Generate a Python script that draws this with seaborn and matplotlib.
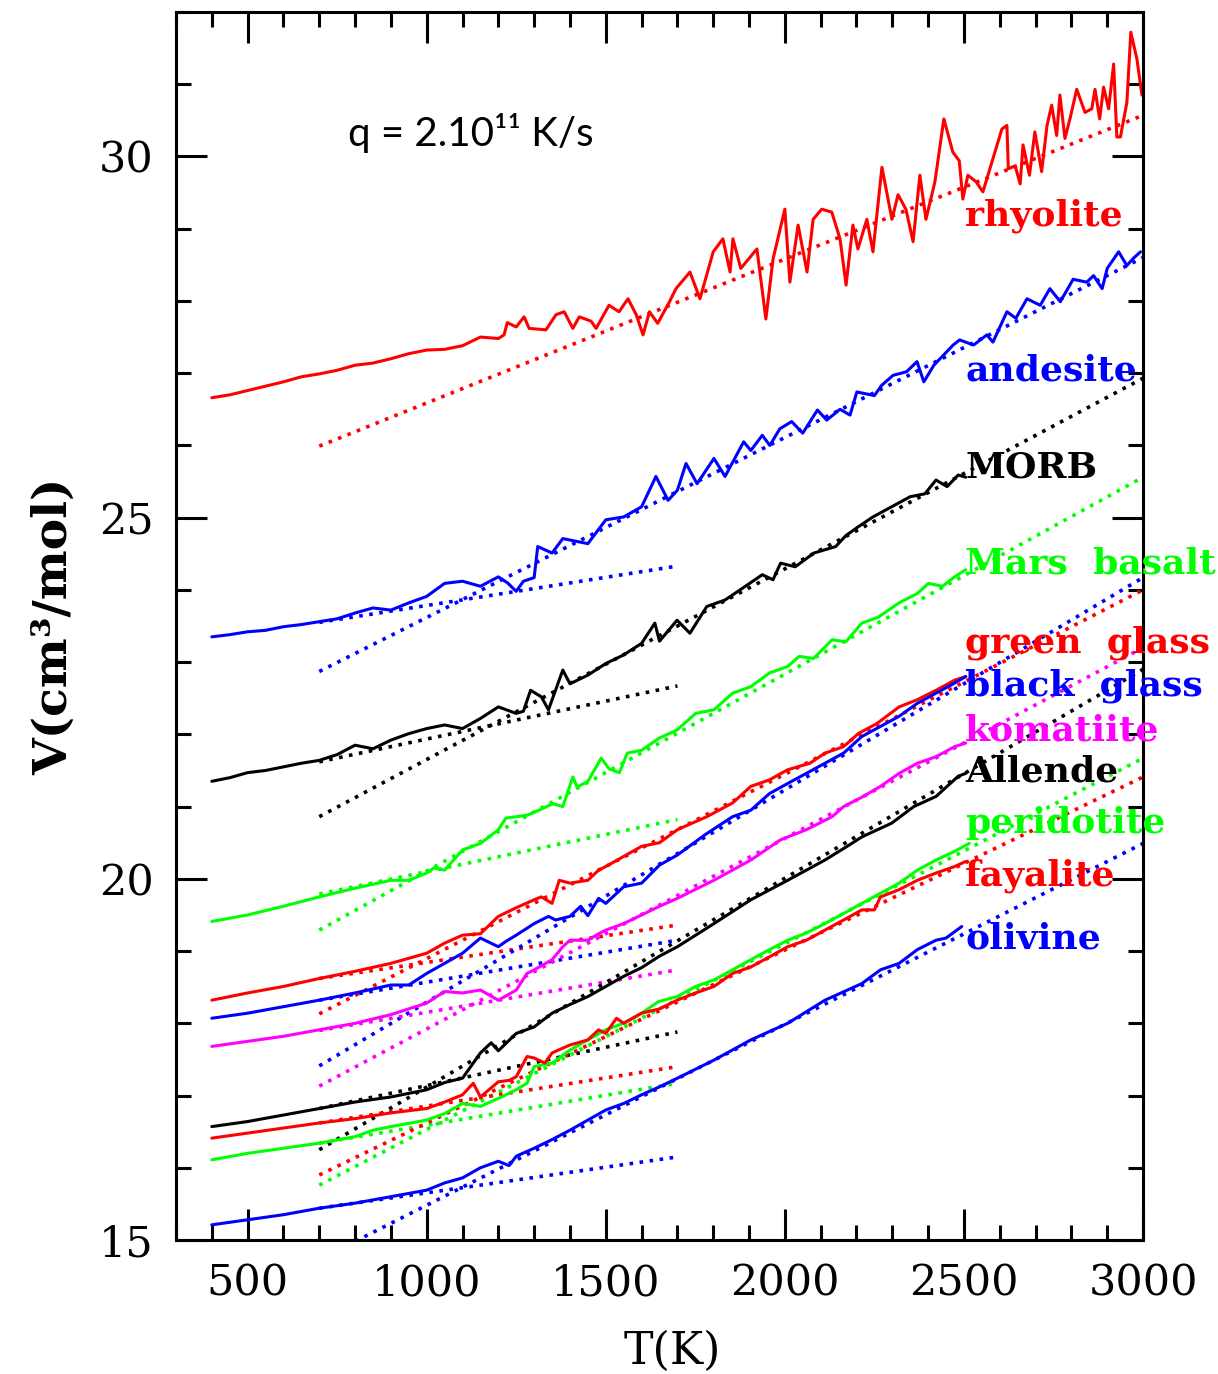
import matplotlib
matplotlib.use("Agg")
import matplotlib.pyplot as plt
from matplotlib.ticker import MultipleLocator
import numpy as np
import pandas as pd
import seaborn as sns

# ---------------- data ----------------
rhyolite_T = [400, 450, 500, 550, 600, 650, 700, 750, 800, 850, 900, 950, 1000, 1050, 1100, 1150, 1200,
              1216, 1225, 1250, 1272, 1286, 1333, 1361, 1384, 1408, 1426, 1459, 1473, 1509, 1537, 1562,
              1585, 1604, 1622, 1645, 1678, 1696, 1735, 1763, 1800, 1827, 1847, 1855, 1877, 1922, 1947,
              1967, 2000, 2014, 2037, 2062, 2079, 2103, 2131, 2154, 2171, 2190, 2204, 2229, 2246, 2271,
              2299, 2316, 2338, 2358, 2377, 2394, 2419, 2444, 2469, 2487, 2497, 2511, 2534, 2553, 2581,
              2606, 2620, 2624, 2643, 2657, 2665, 2683, 2698, 2717, 2732, 2745, 2759, 2768, 2782, 2796,
              2815, 2838, 2857, 2866, 2879, 2890, 2904, 2918, 2927, 2937, 2955, 2966, 2983, 2997]
rhyolite_V = [26.66, 26.70, 26.76, 26.82, 26.88, 26.95, 26.99, 27.04, 27.11, 27.14, 27.20, 27.27, 27.32,
              27.33, 27.38, 27.50, 27.48, 27.53, 27.70, 27.64, 27.78, 27.62, 27.60, 27.81, 27.85, 27.62,
              27.78, 27.72, 27.62, 27.94, 27.85, 28.03, 27.81, 27.53, 27.85, 27.69, 27.99, 28.17, 28.40,
              28.03, 28.68, 28.86, 28.40, 28.86, 28.45, 28.72, 27.75, 28.58, 29.27, 28.26, 29.05, 28.40,
              29.13, 29.27, 29.23, 28.86, 28.22, 29.05, 28.72, 29.13, 28.68, 29.85, 29.13, 29.47, 29.27,
              28.82, 29.74, 29.13, 29.65, 30.52, 30.06, 29.94, 29.41, 29.74, 29.65, 29.51, 29.97, 30.38,
              30.43, 29.83, 29.87, 29.62, 30.16, 29.74, 30.34, 29.79, 30.43, 30.71, 30.29, 30.85, 30.25,
              30.52, 30.93, 30.61, 30.66, 30.93, 30.52, 30.96, 30.66, 31.28, 30.27, 30.27, 30.75, 31.72,
              31.35, 30.85]

andesite_T = [400, 450, 500, 550, 600, 650, 700, 750, 800, 850, 900, 950, 1000, 1050, 1100, 1150, 1200,
              1225, 1250, 1270, 1300, 1310, 1350, 1380, 1400, 1450, 1500, 1550, 1600, 1640, 1674, 1700,
              1724, 1755, 1802, 1833, 1885, 1905, 1937, 1958, 1986, 2019, 2050, 2091, 2117, 2154, 2182,
              2201, 2250, 2270, 2302, 2340, 2369, 2388, 2416, 2470, 2488, 2527, 2564, 2581, 2620, 2645,
              2676, 2713, 2740, 2769, 2805, 2843, 2862, 2886, 2900, 2932, 2955, 2973, 2993]
andesite_V = [23.35, 23.38, 23.42, 23.44, 23.49, 23.52, 23.56, 23.60, 23.68, 23.75, 23.72, 23.82, 23.91,
              24.09, 24.12, 24.05, 24.18, 24.10, 23.98, 24.12, 24.17, 24.60, 24.51, 24.71, 24.69, 24.64,
              24.97, 25.01, 25.15, 25.57, 25.24, 25.38, 25.75, 25.47, 25.82, 25.57, 26.05, 25.93, 26.14,
              26.00, 26.23, 26.33, 26.17, 26.49, 26.35, 26.50, 26.42, 26.74, 26.69, 26.83, 26.97, 27.02,
              27.16, 26.88, 27.11, 27.39, 27.46, 27.39, 27.53, 27.43, 27.85, 27.76, 28.03, 27.94, 28.17,
              27.99, 28.30, 28.26, 28.35, 28.17, 28.45, 28.68, 28.49, 28.59, 28.68]

morb_T = [400, 450, 500, 550, 600, 650, 700, 750, 800, 850, 900, 950, 1000, 1050, 1100, 1150, 1200, 1250,
          1270, 1290, 1320, 1340, 1380, 1400, 1450, 1500, 1550, 1600, 1637, 1650, 1699, 1735, 1782, 1833,
          1875, 1937, 1967, 1988, 2029, 2081, 2142, 2170, 2204, 2246, 2298, 2350, 2391, 2422, 2453, 2484,
          2505]
morb_V = [21.35, 21.40, 21.47, 21.50, 21.55, 21.60, 21.64, 21.72, 21.85, 21.80, 21.92, 22.01, 22.08, 22.13,
          22.08, 22.22, 22.38, 22.29, 22.32, 22.61, 22.52, 22.34, 22.89, 22.70, 22.82, 22.98, 23.10, 23.26,
          23.54, 23.29, 23.58, 23.40, 23.77, 23.86, 24.00, 24.21, 24.14, 24.37, 24.32, 24.51, 24.60, 24.75,
          24.87, 25.01, 25.15, 25.29, 25.33, 25.52, 25.43, 25.59, 25.56]

mars_T = [400, 500, 600, 700, 800, 900, 950, 1000, 1020, 1050, 1100, 1150, 1200, 1221, 1250, 1280, 1314,
          1352, 1380, 1408, 1420, 1450, 1487, 1510, 1538, 1560, 1600, 1650, 1699, 1751, 1802, 1854, 1905,
          1957, 2008, 2040, 2080, 2132, 2170, 2215, 2260, 2319, 2370, 2401, 2440, 2474, 2505]
mars_V = [19.41, 19.50, 19.62, 19.75, 19.87, 19.98, 19.98, 20.08, 20.15, 20.12, 20.40, 20.49, 20.68, 20.84,
          20.86, 20.88, 20.95, 21.04, 21.00, 21.41, 21.27, 21.35, 21.67, 21.52, 21.47, 21.74, 21.78, 21.95,
          22.06, 22.29, 22.34, 22.57, 22.66, 22.85, 22.94, 23.08, 23.05, 23.31, 23.28, 23.54, 23.62, 23.82,
          23.95, 24.09, 24.05, 24.18, 24.28]

greenglass_T = [400, 500, 600, 700, 800, 900, 1000, 1050, 1100, 1150, 1200, 1250, 1300, 1320, 1350, 1370,
                1400, 1450, 1480, 1500, 1550, 1600, 1650, 1700, 1782, 1854, 1905, 1957, 2008, 2070, 2112,
                2164, 2205, 2257, 2319, 2370, 2422, 2474, 2505]
greenglass_V = [18.32, 18.42, 18.51, 18.62, 18.72, 18.83, 18.97, 19.11, 19.22, 19.24, 19.48, 19.60, 19.71,
                19.75, 19.66, 19.98, 19.94, 19.98, 20.12, 20.17, 20.31, 20.45, 20.50, 20.68, 20.86, 21.05,
                21.28, 21.37, 21.51, 21.60, 21.74, 21.83, 22.01, 22.15, 22.38, 22.48, 22.61, 22.75, 22.80]

blackglass_T = [400, 500, 600, 700, 800, 900, 950, 1000, 1050, 1100, 1150, 1200, 1220, 1250, 1300, 1340,
                1360, 1400, 1430, 1450, 1480, 1500, 1550, 1600, 1650, 1700, 1780, 1854, 1905, 1957, 2008,
                2060, 2112, 2164, 2215, 2267, 2319, 2370, 2422, 2474, 2505]
blackglass_V = [18.07, 18.14, 18.23, 18.32, 18.42, 18.53, 18.53, 18.69, 18.83, 18.97, 19.18, 19.06, 19.13,
                19.22, 19.38, 19.48, 19.43, 19.48, 19.62, 19.49, 19.73, 19.66, 19.89, 19.94, 20.19, 20.33,
                20.62, 20.86, 20.95, 21.18, 21.32, 21.46, 21.60, 21.74, 21.97, 22.11, 22.25, 22.43, 22.57,
                22.71, 22.80]

komatiite_T = [400, 500, 600, 700, 800, 900, 1000, 1050, 1100, 1150, 1200, 1250, 1280, 1300, 1350, 1380,
               1400, 1450, 1480, 1500, 1550, 1600, 1650, 1700, 1802, 1905, 1988, 2060, 2132, 2164, 2215,
               2267, 2319, 2370, 2422, 2474, 2505]
komatiite_V = [17.68, 17.75, 17.82, 17.91, 18.00, 18.12, 18.28, 18.44, 18.42, 18.46, 18.32, 18.46, 18.69,
               18.74, 18.88, 19.06, 19.15, 19.15, 19.24, 19.29, 19.38, 19.50, 19.62, 19.73, 19.98, 20.26,
               20.54, 20.68, 20.86, 21.00, 21.13, 21.28, 21.46, 21.60, 21.69, 21.83, 21.88]

allende_T = [400, 500, 600, 700, 800, 900, 1000, 1050, 1100, 1150, 1180, 1200, 1250, 1300, 1350, 1400,
             1450, 1500, 1550, 1600, 1650, 1700, 1802, 1905, 2008, 2112, 2174, 2215, 2298, 2360, 2422,
             2484, 2505]
allende_V = [16.57, 16.64, 16.73, 16.82, 16.91, 16.98, 17.08, 17.18, 17.24, 17.59, 17.73, 17.62, 17.86,
             17.95, 18.14, 18.26, 18.37, 18.51, 18.65, 18.77, 18.93, 19.06, 19.38, 19.71, 19.98, 20.26,
             20.45, 20.58, 20.77, 21.00, 21.14, 21.42, 21.46]

peridotite_T = [400, 500, 600, 700, 800, 850, 900, 1000, 1050, 1100, 1150, 1200, 1250, 1280, 1300, 1350,
                1400, 1450, 1500, 1550, 1600, 1647, 1699, 1751, 1802, 1854, 1905, 1957, 2008, 2060, 2112,
                2164, 2215, 2267, 2319, 2370, 2422, 2474, 2515]
peridotite_V = [16.11, 16.20, 16.27, 16.34, 16.43, 16.52, 16.57, 16.66, 16.75, 16.89, 16.85, 16.96, 17.08,
                17.17, 17.40, 17.45, 17.63, 17.77, 17.91, 18.00, 18.14, 18.30, 18.37, 18.51, 18.60, 18.74,
                18.88, 19.02, 19.15, 19.25, 19.38, 19.52, 19.66, 19.80, 19.94, 20.12, 20.26, 20.38, 20.49]

fayalite_T = [400, 500, 600, 700, 800, 900, 1000, 1050, 1100, 1130, 1150, 1200, 1230, 1250, 1280, 1300,
              1330, 1350, 1400, 1450, 1480, 1500, 1530, 1550, 1600, 1650, 1699, 1751, 1802, 1854, 1905,
              1957, 2008, 2060, 2112, 2164, 2215, 2250, 2267, 2319, 2370, 2422, 2474, 2505]
fayalite_V = [16.41, 16.48, 16.55, 16.62, 16.68, 16.76, 16.82, 16.91, 17.01, 17.17, 16.98, 17.19, 17.21,
              17.26, 17.54, 17.52, 17.45, 17.59, 17.70, 17.77, 17.91, 17.86, 18.07, 18.00, 18.14, 18.20,
              18.32, 18.42, 18.51, 18.69, 18.78, 18.92, 19.06, 19.15, 19.29, 19.43, 19.57, 19.57, 19.75,
              19.85, 19.98, 20.08, 20.17, 20.24]

olivine_T = [400, 500, 600, 700, 800, 900, 1000, 1050, 1100, 1150, 1200, 1230, 1250, 1300, 1350, 1400,
             1450, 1500, 1550, 1600, 1650, 1700, 1802, 1905, 2008, 2112, 2215, 2267, 2319, 2370, 2422,
             2450, 2494]
olivine_V = [15.21, 15.28, 15.35, 15.44, 15.51, 15.60, 15.69, 15.79, 15.86, 16.00, 16.09, 16.03, 16.16,
             16.27, 16.39, 16.52, 16.66, 16.80, 16.89, 17.01, 17.12, 17.24, 17.49, 17.77, 18.00, 18.32,
             18.55, 18.74, 18.83, 19.02, 19.15, 19.18, 19.34]

# dotted linear fits: low-T fit spans fit_low_T, high-T fit spans fit_high_T
fit_low_T = [700, 1700]
fit_high_T = [700, 3000]
series_names = ["rhyolite", "andesite", "MORB", "Mars  basalt", "green  glass", "black  glass",
                "komatiite", "Allende", "peridotite", "fayalite", "olivine"]
series_colors = ["#ff0000", "#0000ff", "#000000", "#00ff00", "#ff0000", "#0000ff",
                 "#ff00ff", "#000000", "#00ff00", "#ff0000", "#0000ff"]
fit_low_V = [None, [23.55, 24.33], [21.62, 22.67], [19.79, 20.82], [18.62, 19.36], [18.32, 19.15],
             [17.90, 18.74], [16.82, 17.88], [16.34, 17.17], [16.62, 17.40], [15.44, 16.15]]
fit_high_V = [[25.99, 30.57], [22.87, 28.60], [20.86, 26.93], [19.29, 25.56], [18.13, 24.00],
              [17.41, 24.17], [17.13, 23.20], [16.25, 22.90], [15.76, 21.67], [15.90, 21.41],
              [14.73, 20.49]]
label_V = [29.18, 27.04, 25.69, 24.37, 23.27, 22.67, 22.06, 21.48, 20.77, 20.04, 19.18]
label_T = 2503

curves_T = [rhyolite_T, andesite_T, morb_T, mars_T, greenglass_T, blackglass_T, komatiite_T,
            allende_T, peridotite_T, fayalite_T, olivine_T]
curves_V = [rhyolite_V, andesite_V, morb_V, mars_V, greenglass_V, blackglass_V, komatiite_V,
            allende_V, peridotite_V, fayalite_V, olivine_V]

# ---------------- build tables ----------------
solid_rows = []
for name, Ts, Vs in zip(series_names, curves_T, curves_V):
    for t, v in zip(Ts, Vs):
        solid_rows.append({"T": t, "V": v, "series": name})
solid = pd.DataFrame(solid_rows)

fit_rows = []
fit_palette = {}
for name, col, lo, hi in zip(series_names, series_colors, fit_low_V, fit_high_V):
    if lo is not None:
        for t, v in zip(fit_low_T, lo):
            fit_rows.append({"T": t, "V": v, "fit": name + " low"})
        fit_palette[name + " low"] = col
    for t, v in zip(fit_high_T, hi):
        fit_rows.append({"T": t, "V": v, "fit": name + " high"})
    fit_palette[name + " high"] = col
fits = pd.DataFrame(fit_rows)
solid_palette = dict(zip(series_names, series_colors))

# ---------------- plot ----------------
sns.set_style("white")
plt.rcParams["font.family"] = ["DejaVu Serif"]
plt.rcParams["text.color"] = "black"
plt.rcParams["axes.labelcolor"] = "black"
plt.rcParams["xtick.color"] = "black"
plt.rcParams["ytick.color"] = "black"

fig = plt.figure(figsize=(12.18, 13.74), dpi=100)
ax = fig.add_axes([176 / 1218, 1 - 1240 / 1374, (1143 - 176) / 1218, (1240 - 12) / 1374])

sns.lineplot(data=fits, x="T", y="V", hue="fit", palette=fit_palette, estimator=None, sort=False,
             legend=False, linewidth=2.6, linestyle=(0, (1, 1.8)), dash_capstyle="butt", ax=ax)
sns.lineplot(data=solid, x="T", y="V", hue="series", palette=solid_palette, estimator=None, sort=False,
             legend=False, linewidth=2.2, ax=ax)

ax.set_xlim(300, 3000)
ax.set_ylim(15, 32)
ax.xaxis.set_major_locator(MultipleLocator(500))
ax.xaxis.set_minor_locator(MultipleLocator(100))
ax.yaxis.set_major_locator(MultipleLocator(5))
ax.yaxis.set_minor_locator(MultipleLocator(1))
ax.tick_params(which="both", direction="in", top=True, right=True, bottom=True, left=True,
               width=2.2, color="black", labelcolor="black")
ax.tick_params(which="major", length=22, labelsize=31, pad=16)
ax.tick_params(which="minor", length=11)
for lab in ax.get_xticklabels() + ax.get_yticklabels():
    lab.set_family("DejaVu Serif")
for sp in ax.spines.values():
    sp.set_linewidth(2.2)
    sp.set_color("black")

ax.set_xlabel("T(K)", fontsize=32, family="DejaVu Serif", color="black")
ax.xaxis.set_label_coords(0.513, -0.073)
ax.set_ylabel("V(cm³/mol)", fontsize=34, family="DejaVu Serif", fontweight="bold", color="black",
              labelpad=16)

for name, col, yv in zip(series_names, series_colors, label_V):
    ax.text(label_T, yv, name, color=col, fontsize=26, fontweight="bold", family="DejaVu Serif",
            ha="left", va="center", clip_on=False)

ax.text(780, 30.33, "q = 2.10¹¹ K/s", fontsize=29, family=["Lato", "DejaVu Sans"],
        ha="left", va="center", color="black")

fig.savefig("out.png", dpi=100)
